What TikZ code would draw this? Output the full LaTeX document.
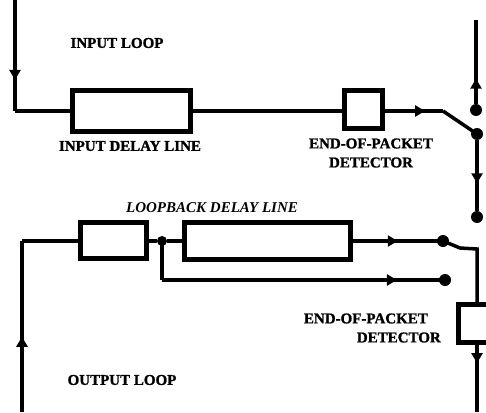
\documentclass[tikz,border=0pt]{standalone}
\usepackage{fontspec}
\setmainfont{Liberation Serif}[BoldFeatures={FakeBold=1.2}]
\usetikzlibrary{arrows.meta,decorations.markings}

\begin{document}
\begin{tikzpicture}[x=1pt, y=-1pt,
    wire/.style={line width=3.5pt},
    blk/.style={rectangle, draw, line width=5pt, inner sep=0pt},
    lbl/.style={font=\fontsize{15}{19}\selectfont\bfseries, inner sep=0pt},
    flow/.style={postaction={decorate}, decoration={markings,
        mark=at position #1 with {\arrow{Triangle[length=10pt,width=11pt]}}}},
    dot/.style={circle, fill, minimum size=12pt, inner sep=0pt}
]
\useasboundingbox (0,0) rectangle (486,412);
\clip (0,0) rectangle (486,412);

% input loop
\node[blk, minimum width=118pt, minimum height=41pt] (idl) at (131,111) {};
\node[blk, minimum width=38pt, minimum height=38pt] (eop1) at (363.5,109) {};
\coordinate (intop) at (15,0);
\coordinate (incorner) at (15,111);
\coordinate (sw1a) at (443,111);
\coordinate (outtop) at (476,20);
\node[dot] (sw1up) at (476,110) {};
\node[dot] (sw1dn) at (477,134) {};
\node[dot] (sw2up) at (477,217) {};

\draw[wire, flow=0.72] (intop) -- (incorner);
\draw[wire] (incorner) -- (idl.west);
\draw[wire] (idl.east) -- (eop1.west |- idl.east);
\draw[wire, flow=0.69] (eop1.east |- sw1a) -- (sw1a);
\draw[wire] (sw1a) -- (sw1dn.center);
\draw[wire, flow=0.3] (sw1up) -- (outtop);
\draw[wire, flow=0.61] (sw1dn) -- (sw2up);

\node[lbl] (inlabel) at (117,43) {INPUT LOOP};
\node[lbl] (idllabel) at (130,146) {INPUT DELAY LINE};
\node[lbl, align=center] (eop1label) at (371,153) {END-OF-PACKET\\DETECTOR};

% output loop
\node[blk, minimum width=66pt, minimum height=36pt] (sbox) at (113,240.5) {};
\node[blk, minimum width=166pt, minimum height=37pt] (bbox) at (267,240.5) {};
\node[blk, minimum width=38pt, minimum height=38pt] (eop2) at (477,323.5) {};
\coordinate (outbot) at (22,412);
\coordinate (outcorner) at (22,241);
\node[dot, minimum size=10pt] (jn) at (162,241) {};
\coordinate (jncorner) at (162,280);
\node[dot] (bypass) at (445,280) {};
\node[dot] (sw2a) at (443,241) {};
\coordinate (sw2pv) at (460,248);
\coordinate (sw2b) at (477,249);
\coordinate (outend) at (477,412);

\draw[wire, flow=0.44] (outbot) -- (outcorner);
\draw[wire] (outcorner) -- (sbox.west |- outcorner);
\draw[wire] (sbox.east |- jn) -- (jn);
\draw[wire] (jn) -- (bbox.west |- jn);
\draw[wire] (jn.center) -- (jncorner);
\draw[wire, flow=0.83] (jncorner) -- (bypass.center);
\draw[wire, flow=0.5] (bbox.east |- sw2a) -- (sw2a.center);
\draw[wire] (sw2a.center) -- (sw2pv) -- (sw2b) -- (eop2.north);
\draw[wire, flow=0.27] (eop2.south) -- (outend);

\node[lbl, font=\fontsize{15}{19}\selectfont\bfseries\itshape] (lbdlabel) at (212,208) {LOOPBACK DELAY LINE};
\node[lbl, align=right, anchor=east] (eop2label) at (441,328) {END-OF-PACKET\hspace*{13pt}\\DETECTOR};
\node[lbl] (outlabel) at (122,380) {OUTPUT LOOP};
\end{tikzpicture}
\end{document}
